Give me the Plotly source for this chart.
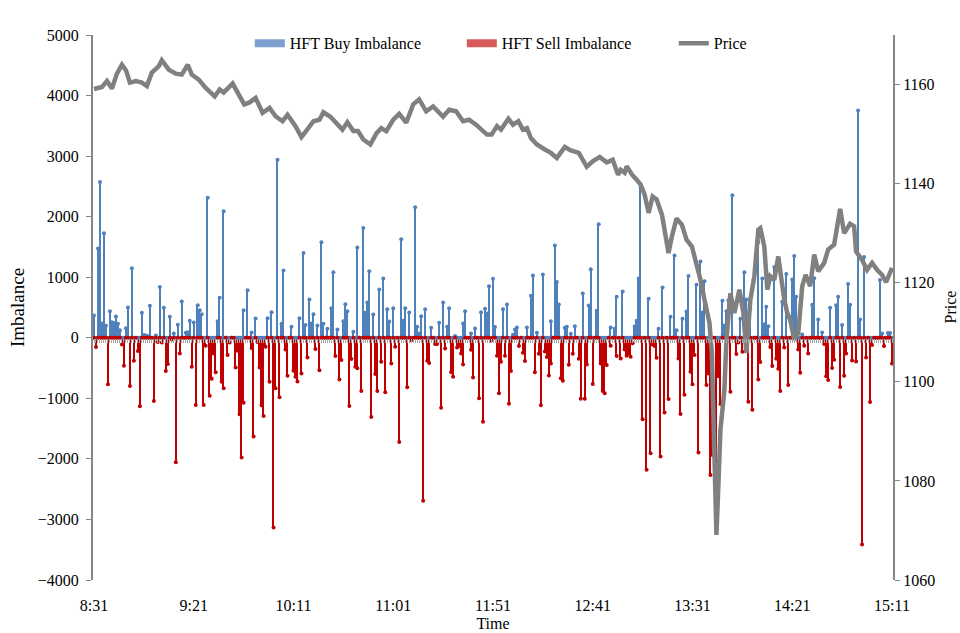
import plotly.graph_objects as go

# ---------------- data ----------------
tick_labels = ["8:31", "9:21", "10:11", "11:01", "11:51", "12:41", "13:31", "14:21", "15:11"]
tick_minutes = [0, 50, 100, 150, 200, 250, 300, 350, 400]
n_minutes = 401  # 8:31 .. 15:11, one category per minute

buy_minutes = [0, 2, 3, 4, 5, 6, 8, 9, 10, 11, 12, 13, 16, 17, 19, 24, 25, 26, 27, 28, 31, 33, 35, 38, 40, 42, 44, 46, 47, 48,
               50, 52, 53, 54, 57, 62, 63, 65, 75, 77, 79, 81, 87, 89, 92, 94, 95, 99, 103, 105, 106, 108, 109, 110, 112, 114,
               115, 117, 119, 120, 122, 125, 126, 127, 130, 132, 135, 136, 137, 138, 140, 143, 145, 147, 148, 150, 154, 155,
               156, 158, 161, 162, 163, 164, 166, 169, 173, 175, 177, 178, 181, 185, 186, 189, 191, 194, 196, 197, 198, 200,
               201, 205, 207, 210, 211, 212, 217, 219, 220, 222, 225, 229, 231, 232, 233, 236, 237, 239, 241, 245, 248, 249,
               252, 253, 259, 261, 262, 265, 271, 272, 273, 274, 278, 283, 285, 289, 291, 292, 295, 297, 298, 302, 304, 305,
               306, 315, 316, 317, 318, 320, 324, 326, 327, 329, 333, 335, 336, 337, 338, 341, 345, 347, 350, 351, 352, 355,
               360, 361, 363, 365, 369, 372, 373, 375, 378, 379, 383, 384, 386, 394, 395, 398, 399]
buy_values = [368, 1473, 2571, 236, 1725, 200, 440, 258, 242, 352, 231, 126, 159, 500, 1148, 412, 44, 38, 30, 527, 38, 840, 494,
              346, 71, 214, 599, 82, 93, 280, 253, 538, 456, 390, 2313, 275, 659, 2088, 456, 786, 88, 319, 324, 423, 2940, 231,
              1110, 181, 324, 1401, 209, 632, 236, 390, 203, 1577, 231, 148, 489, 1082, 137, 275, 555, 440, 99, 1489, 1813, 412,
              582, 1099, 385, 797, 978, 473, 269, 489, 1626, 280, 489, 418, 2154, 181, 71, 357, 473, 165, 247, 582, 181, 489, 30,
              236, 440, 71, 154, 423, 478, 401, 852, 973, 176, 473, 549, 50, 137, 170, 170, 692, 1027, 82, 1044, 275, 1522, 923,
              549, 165, 181, 66, 192, 731, 533, 1132, 445, 1874, 170, 148, 676, 764, 187, 280, 978, 2478, 643, 148, 830, 346,
              1357, 126, 313, 434, 1022, 874, 1258, 418, 934, 610, 203, 440, 621, 2352, 313, 1082, 632, 478, 1582, 978, 225,
              511, 192, 1170, 593, 1055, 962, 1352, 676, 55, 544, 984, 302, 88, 495, 538, 676, 209, 890, 544, 3753, 302, 1335,
              956, 71, 77, 77]

sell_minutes = [1, 7, 14, 15, 18, 20, 22, 23, 30, 32, 34, 36, 37, 39, 41, 43, 49, 51, 55, 56, 58, 59, 60, 61, 64, 65, 67, 68,
                71, 72, 73, 74, 75, 79, 80, 82, 83, 84, 85, 86, 88, 90, 91, 93, 96, 97, 100, 101, 102, 104, 107, 111, 113, 121,
                123, 124, 128, 129, 131, 132, 134, 139, 141, 142, 144, 146, 149, 151, 153, 157, 159, 165, 167, 168, 171, 172,
                174, 176, 179, 180, 182, 183, 184, 185, 189, 190, 193, 195, 199, 202, 203, 204, 206, 208, 209, 213, 215, 216,
                221, 223, 224, 226, 227, 228, 229, 234, 235, 238, 240, 243, 244, 246, 247, 250, 254, 255, 256, 257, 259, 262,
                264, 266, 267, 268, 269, 270, 275, 277, 279, 280, 281, 282, 284, 286, 288, 293, 294, 296, 299, 300, 301, 303,
                307, 308, 309, 310, 312, 313, 314, 319, 322, 323, 325, 328, 330, 333, 334, 339, 340, 342, 343, 344, 346, 348,
                353, 354, 356, 358, 366, 367, 368, 370, 371, 374, 376, 377, 380, 382, 385, 387, 389, 390, 396, 400]
sell_values = [-154, -769, -110, -462, -797, -379, -220, -1132, -1044, -71, -77, -549, -434, -27, -2055, -258, -478, -1110,
               -1110, -132, -956, -676, -258, -571, -725, -835, -286, -80, -489, -214, -1264, -1978, -1071, -170, -1632, -71,
               -489, -1115, -1291, -148, -725, -3132, -835, -984, -192, -626, -544, -643, -720, -588, -324, -187, -538, -302,
               -687, -368, -1126, -352, -478, -505, -879, -1308, -599, -879, -396, -901, -423, -148, -1720, -819, -40, -2692,
               -379, -418, -104, -104, -1154, -176, -571, -643, -159, -137, -258, -440, -198, -654, -1000, -1385, -50, -297,
               -918, -396, -297, -1088, -549, -137, -247, -385, -571, -264, -1115, -225, -319, -621, -423, -670, -709, -445,
               -264, -346, -1005, -1005, -440, -764, -423, -879, -918, -451, -132, -302, -341, -192, -297, -269, -313, -90,
               -1346, -2181, -1907, -110, -137, -330, -1962, -1236, -1011, -341, -1258, -940, -560, -769, -286, -1896, -780,
               -588, -2264, -1934, -2555, -637, -1093, -890, -269, -80, -231, -1055, -1187, -687, -401, -154, -467, -346, -511,
               -879, -159, -780, -192, -577, -132, -258, -104, -637, -698, -500, -363, -813, -626, -258, -374, -390, -3412,
               -324, -1060, -121, -137, -423]

price_minutes = [0, 4, 6.5, 9, 11.5, 14, 16, 18, 21, 24, 26.5, 29, 32.5, 34, 37.5, 41, 44, 47, 49, 52.5, 56, 60.5, 63, 65,
                 69.5, 72, 75.3, 78, 81, 84.5, 88, 91, 94.5, 97, 101, 104, 107, 110, 113, 115, 118.5, 122, 124.5, 127, 130,
                 132.3, 135, 138.5, 141.5, 144, 146.5, 150, 153, 156.5, 160, 163, 166.5, 170, 175, 178, 181.5, 185, 188, 191.5,
                 195, 197, 199.3, 202, 204, 207.7, 210, 212.7, 215, 217, 219, 222, 226, 229, 232, 236, 239, 243, 247, 250, 253.5,
                 257, 260, 262.7, 264, 266, 267, 269.7, 272, 274, 276, 278, 280, 282, 284.7, 286, 288, 289.7, 292, 294.7, 297,
                 299.7, 302, 304, 306, 308.5, 309.7, 311, 312, 313, 314, 316, 317, 319, 321, 323.5, 325.5, 327, 329, 331, 333,
                 334, 336, 337.5, 339, 341, 343, 346, 347.5, 349, 351, 353, 355, 356.7, 359, 361, 363, 366, 368, 371, 372.5, 374,
                 376, 379, 381, 382, 385, 387.5, 390, 392.5, 395, 397, 399, 400]
price_values = [1159.1, 1159.5, 1160.7, 1159.2, 1162.2, 1164.0, 1162.9, 1160.4, 1160.7, 1160.4, 1159.7, 1162.4, 1163.7,
                1164.9, 1163.0, 1162.2, 1162.0, 1164.0, 1162.0, 1161.0, 1159.3, 1157.6, 1159.0, 1158.4, 1160.2, 1158.3,
                1156.0, 1156.4, 1157.3, 1154.3, 1155.3, 1153.6, 1152.6, 1153.9, 1151.6, 1149.4, 1151.2, 1152.6, 1152.9,
                1154.4, 1153.5, 1151.9, 1150.9, 1152.4, 1150.6, 1150.6, 1148.9, 1147.9, 1150.1, 1151.2, 1150.6, 1152.9,
                1154.1, 1152.3, 1156.0, 1157.0, 1154.6, 1155.6, 1153.5, 1154.9, 1154.6, 1152.6, 1152.9, 1151.9, 1150.6,
                1149.9, 1149.9, 1151.6, 1150.9, 1153.1, 1151.9, 1152.6, 1150.9, 1151.2, 1149.2, 1147.9, 1146.9, 1146.2,
                1145.2, 1147.4, 1146.7, 1146.2, 1143.4, 1144.5, 1145.4, 1144.3, 1144.8, 1141.8, 1142.8, 1142.2, 1143.5,
                1141.8, 1140.8, 1139.8, 1137.8, 1134.1, 1137.4, 1136.8, 1133.7, 1130.7, 1126.0, 1129.4, 1133.0, 1131.7,
                1128.7, 1127.3, 1124.0, 1120.6, 1116.6, 1111.9, 1105.8, 1086.3, 1069.1, 1079.5, 1090.3, 1098.4, 1108.5,
                1117.9, 1113.9, 1118.6, 1113.9, 1105.8, 1116.6, 1121.3, 1130.7, 1131.0, 1127.3, 1118.6, 1121.3, 1120.6,
                1125.3, 1116.6, 1113.9, 1112.5, 1108.5, 1109.8, 1119.3, 1121.6, 1119.3, 1125.7, 1122.3, 1124.0, 1126.7,
                1127.7, 1131.4, 1134.9, 1130.0, 1131.9, 1131.4, 1126.3, 1124.6, 1122.6, 1124.0, 1122.6, 1121.6, 1120.1,
                1122.0, 1123.0]

left_ticks = [-4000, -3000, -2000, -1000, 0, 1000, 2000, 3000, 4000, 5000]
right_ticks = [1060, 1080, 1100, 1120, 1140, 1160]

# ---------------- build full per-minute series ----------------
minutes = list(range(n_minutes))
buy = [0] * n_minutes
for m, v in zip(buy_minutes, buy_values):
    buy[m] = v
sell = [0] * n_minutes
for m, v in zip(sell_minutes, sell_values):
    sell[m] = v

BLUE = "#4F81BD"
RED = "#C00000"
GRAY = "#808080"
AXIS = "#868686"
FONT = "Liberation Serif"
FS = 16

fig = go.Figure()
fig.add_trace(go.Bar(x=minutes, y=buy, width=0.75, name="HFT Buy Imbalance", showlegend=False,
                     marker=dict(color=BLUE, line=dict(width=0)), hoverinfo="skip"))
fig.add_trace(go.Bar(x=minutes, y=sell, width=0.75, name="HFT Sell Imbalance", showlegend=False,
                     marker=dict(color=RED, line=dict(width=0)), hoverinfo="skip"))
fig.add_trace(go.Scatter(x=minutes, y=buy, mode="markers", marker=dict(color=BLUE, size=4),
                         showlegend=False, hoverinfo="skip"))
fig.add_trace(go.Scatter(x=minutes, y=sell, mode="markers", marker=dict(color=RED, size=4),
                         showlegend=False, hoverinfo="skip"))
fig.add_trace(go.Scatter(x=price_minutes, y=price_values, mode="lines", name="Price", yaxis="y2",
                         line=dict(color=GRAY, width=4.5), hoverinfo="skip", showlegend=False))
# legend entries (wide rectangular swatches like the reference)
fig.add_trace(go.Scatter(x=[None], y=[None], mode="lines", name="HFT Buy Imbalance",
                         line=dict(color="#7D9FD0", width=8)))
fig.add_trace(go.Scatter(x=[None], y=[None], mode="lines", name="HFT Sell Imbalance",
                         line=dict(color="#D65A5A", width=8)))
fig.add_trace(go.Scatter(x=[None], y=[None], mode="lines", name="Price",
                         line=dict(color=GRAY, width=4.5)))
# dummy trace carrying the per-minute tick strip along the zero line
fig.add_trace(go.Scatter(x=[0], y=[0], xaxis="x2", mode="markers", marker=dict(opacity=0),
                         showlegend=False, hoverinfo="skip"))

fig.update_layout(
    width=960, height=633,
    margin=dict(l=93, r=67, t=35, b=53),
    paper_bgcolor="white", plot_bgcolor="white",
    barmode="relative", bargap=0,
    font=dict(family=FONT, size=FS, color="black"),
    showlegend=True,
    legend=dict(orientation="h", x=0.196, y=1.016, xanchor="left", yanchor="top",
                bgcolor="rgba(0,0,0,0)", font=dict(size=FS, family=FONT), entrywidth=167,
                traceorder="normal"),
    xaxis=dict(range=[-0.5, 400.5], tickvals=tick_minutes, ticktext=tick_labels,
               showgrid=False, zeroline=False, showline=False,
               ticks="outside", ticklen=11, tickcolor="rgba(0,0,0,0)",
               title=dict(text="Time", standoff=4, font=dict(size=FS)), automargin=False),
    xaxis2=dict(overlaying="x", anchor="free", position=4 / 9, range=[-0.5, 400.5],
                tickmode="linear", tick0=0, dtick=1, ticks="outside", ticklen=4,
                tickcolor="#a6a6a6", tickwidth=1, showticklabels=False,
                showgrid=False, zeroline=False, showline=False),
    yaxis=dict(range=[-4000, 5000], tickvals=left_ticks, showgrid=False,
               zeroline=True, zerolinecolor=BLUE, zerolinewidth=2,
               showline=True, linecolor=AXIS, linewidth=2, ticks="outside", ticklen=5,
               tickcolor=AXIS, ticklabelstandoff=4,
               title=dict(text="Imbalance", standoff=8), automargin=False),
    yaxis2=dict(range=[1060, 1170], tickvals=right_ticks, overlaying="y", side="right",
                showgrid=False, zeroline=False, showline=True, linecolor=AXIS, linewidth=2,
                ticks="outside", ticklen=5, tickcolor=AXIS, automargin=False),
    annotations=[dict(text="Price", textangle=-90, xref="paper", yref="paper",
                      x=(950 - 93) / 800, y=0.5, xanchor="center", yanchor="middle",
                      showarrow=False, font=dict(size=FS, family=FONT))],
)

fig.write_html("out.html", config={"displayModeBar": False},
               post_script="document.body.style.margin='0';document.body.style.overflow='hidden';")
